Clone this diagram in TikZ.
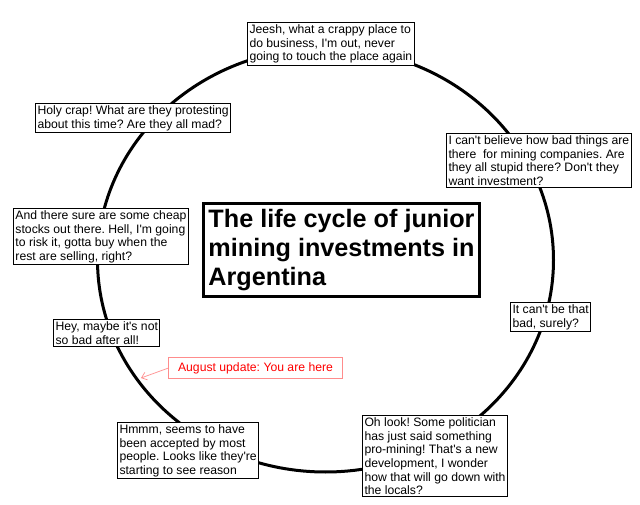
\documentclass[tikz,border=0pt]{standalone}
\usepackage{fontspec}
\newfontfamily\paintfont{Liberation Sans}
\usetikzlibrary{positioning, arrows.meta}

\begin{document}
\frenchspacing
\begin{tikzpicture}[x=1pt, y=-1pt,
                saybox/.style={rectangle, draw=black, fill=white, line width=1pt, anchor=north west, align=left, inner xsep=2pt, inner ysep=2pt, font=\paintfont\fontsize{12.2}{13.7}\selectfont},
                titlebox/.style={rectangle, draw=black, fill=white, line width=3pt, anchor=north west, align=left, inner sep=3pt, font=\paintfont\bfseries\fontsize{25.2}{29}\selectfont},
                updatebox/.style={rectangle, draw=red!45, fill=white, line width=1pt, anchor=north west, align=center, inner ysep=5pt, text=red, font=\paintfont\fontsize{12.2}{13.7}\selectfont},
                ]
                \useasboundingbox (0,0) rectangle (640,505);

                % the cycle
                \draw[line width=3pt] (325.5,260) ellipse [x radius=228, y radius=212];

                \node[saybox] (jeesh) at (247,22) {Jeesh, what a crappy place to\\do business, I'm out, never\\going to touch the place again};
                \node[saybox] (believe) at (446,133) {I can't believe how bad things are\\there\ \ for mining companies. Are\\they all stupid there? Don't they\\want investment?};
                \node[saybox] (surely) at (510,302) {It can't be that\\bad, surely?};
                \node[saybox] (politician) at (362,415) {Oh look! Some politician\\has just said something\\pro-mining! That's a new\\development, I wonder\\how that will go down with\\the locals?};
                \node[saybox] (reason) at (117,422) {Hmmm, seems to have\\been accepted by most\\people. Looks like they're\\starting to see reason};
                \node[saybox] (notbad) at (53,319) {Hey, maybe it's not\\so bad after all!};
                \node[saybox] (cheap) at (13,208) {And there sure are some cheap\\stocks out there. Hell, I'm going\\to risk it, gotta buy when the\\rest are selling, right?};
                \node[saybox] (protest) at (35,103) {Holy crap! What are they protesting\\about this time? Are they all mad?};

                % title
                \node[titlebox, minimum width=276pt, minimum height=93pt] (title) at (202,202) {The life cycle of junior\\mining investments in\\Argentina};

                % update
                \node[updatebox, minimum width=174pt] (update) at (168,357) {August update: You are here};
                \coordinate (here) at (141,378);
                \draw[-{Straight Barb[length=5pt, width=8pt]}, red!45, line width=0.7pt] (update.west) -- (here);
            \end{tikzpicture}
\end{document}
